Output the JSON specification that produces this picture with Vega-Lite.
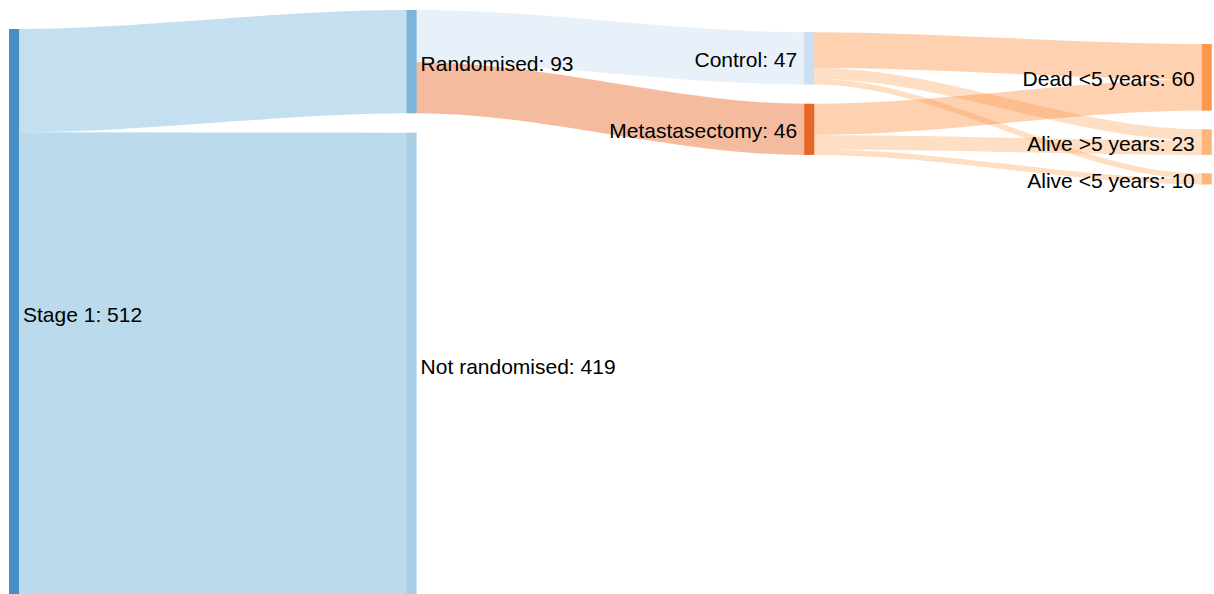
{
  "$schema": "https://vega.github.io/schema/vega-lite/v6.json",
  "width": 1214,
  "height": 594,
  "padding": 0,
  "autosize": "none",
  "config": {"view": {"stroke": null}},
  "datasets": {
    "nodes": [
      {"name": "Stage 1", "col": 0, "top": 26.1, "value": 512},
      {"name": "Randomised", "col": 1, "top": 9.0, "value": 93},
      {"name": "Not randomised", "col": 1, "top": 119.5, "value": 419},
      {"name": "Control", "col": 2, "top": 29.0, "value": 47},
      {"name": "Metastasectomy", "col": 2, "top": 93.5, "value": 46},
      {"name": "Dead <5 years", "col": 3, "top": 39.6, "value": 60},
      {"name": "Alive >5 years", "col": 3, "top": 116.5, "value": 23},
      {"name": "Alive <5 years", "col": 3, "top": 156.1, "value": 10}
    ],
    "links": [
      {"source": "Stage 1", "target": "Randomised", "value": 93},
      {"source": "Stage 1", "target": "Not randomised", "value": 419},
      {"source": "Randomised", "target": "Control", "value": 47},
      {"source": "Randomised", "target": "Metastasectomy", "value": 46},
      {"source": "Control", "target": "Dead <5 years", "value": 32},
      {"source": "Control", "target": "Alive >5 years", "value": 10},
      {"source": "Control", "target": "Alive <5 years", "value": 5},
      {"source": "Metastasectomy", "target": "Dead <5 years", "value": 28},
      {"source": "Metastasectomy", "target": "Alive >5 years", "value": 13},
      {"source": "Metastasectomy", "target": "Alive <5 years", "value": 5}
    ]
  },
  "layer": [
    {
      "data": {"name": "links"},
      "transform": [
        {"lookup": "source", "from": {"data": {"name": "nodes"}, "key": "name", "fields": ["col", "top"]}, "as": ["sCol", "sTop"]},
        {"lookup": "target", "from": {"data": {"name": "nodes"}, "key": "name", "fields": ["col", "top"]}, "as": ["tCol", "tTop"]},
        {"window": [{"op": "sum", "field": "value", "as": "sCum"}], "groupby": ["source"], "sort": [{"field": "tTop", "order": "ascending"}], "frame": [null, 0]},
        {"window": [{"op": "sum", "field": "value", "as": "tCum"}], "groupby": ["target"], "sort": [{"field": "sTop", "order": "ascending"}], "frame": [null, 0]},
        {"calculate": "datum.sTop + datum.sCum - datum.value / 2", "as": "ys"},
        {"calculate": "datum.tTop + datum.tCum - datum.value / 2", "as": "yt"},
        {"calculate": "datum.source + ' to ' + datum.target", "as": "link"},
        {"calculate": "datum.sCol + 0.0126", "as": "p0"},
        {"calculate": "datum.sCol + 0.0252", "as": "p1"},
        {"calculate": "datum.tCol", "as": "p2"},
        {"calculate": "datum.tCol + 0.0126", "as": "p3"},
        {"fold": ["p0", "p1", "p2", "p3"], "as": ["pt", "px"]},
        {"calculate": "(datum.pt == 'p0' || datum.pt == 'p1') ? datum.ys : datum.yt", "as": "py"}
      ],
      "mark": {"type": "line", "interpolate": "monotone", "strokeOpacity": 0.4, "strokeCap": "butt", "orient": "vertical"},
      "encoding": {
        "x": {"field": "px", "type": "quantitative", "scale": {"domain": [-0.02264, 3.03068], "nice": false, "zero": false}, "axis": null},
        "y": {"field": "py", "type": "quantitative", "scale": {"domain": [0, 535], "reverse": true, "nice": false, "zero": false}, "axis": null},
        "detail": {"field": "link", "type": "nominal"},
        "order": {"field": "px", "type": "quantitative"},
        "size": {"field": "value", "type": "quantitative", "scale": {"domain": [0, 535], "range": [0, 594]}, "legend": null},
        "stroke": {
          "field": "target", "type": "nominal", "legend": null,
          "scale": {
            "domain": ["Randomised", "Not randomised", "Control", "Metastasectomy", "Dead <5 years", "Alive >5 years", "Alive <5 years"],
            "range": ["#6baed6", "#55a2cd", "#c6dbef", "#e6550d", "#fd8d3c", "#fdae6b", "#fdae6b"]
          }
        }
      }
    },
    {
      "data": {"name": "nodes"},
      "transform": [
        {"calculate": "datum.col + 0.0252", "as": "colEnd"},
        {"calculate": "datum.top + datum.value", "as": "bottom"}
      ],
      "mark": {"type": "rect"},
      "encoding": {
        "x": {"field": "col", "type": "quantitative", "scale": {"domain": [-0.02264, 3.03068], "nice": false, "zero": false}, "axis": null},
        "x2": {"field": "colEnd"},
        "y": {"field": "top", "type": "quantitative", "scale": {"domain": [0, 535], "reverse": true, "nice": false, "zero": false}, "axis": null},
        "y2": {"field": "bottom"},
        "fill": {
          "field": "name", "type": "nominal", "legend": null,
          "scale": {
            "domain": ["Stage 1", "Randomised", "Not randomised", "Control", "Metastasectomy", "Dead <5 years", "Alive >5 years", "Alive <5 years"],
            "range": ["#468fc4", "#7ab6da", "#a8cfe4", "#ccdff1", "#e86625", "#fd984f", "#fdb67a", "#fdb67a"]
          }
        }
      }
    },
    {
      "data": {"name": "nodes"},
      "transform": [
        {"filter": "datum.col <= 1"},
        {"calculate": "datum.col + 0.0252", "as": "colEnd"},
        {"calculate": "datum.top + datum.value / 2", "as": "mid"},
        {"calculate": "datum.name + ': ' + datum.value", "as": "label"}
      ],
      "mark": {"type": "text", "align": "left", "baseline": "middle", "dx": 4, "dy": 3, "font": "Liberation Sans", "fontSize": 21, "fill": "#000000"},
      "encoding": {
        "x": {"field": "colEnd", "type": "quantitative", "scale": {"domain": [-0.02264, 3.03068], "nice": false, "zero": false}, "axis": null},
        "y": {"field": "mid", "type": "quantitative", "scale": {"domain": [0, 535], "reverse": true, "nice": false, "zero": false}, "axis": null},
        "text": {"field": "label", "type": "nominal"}
      }
    },
    {
      "data": {"name": "nodes"},
      "transform": [
        {"filter": "datum.col >= 2"},
        {"calculate": "datum.top + datum.value / 2", "as": "mid"},
        {"calculate": "datum.name + ': ' + datum.value", "as": "label"}
      ],
      "mark": {"type": "text", "align": "right", "baseline": "middle", "dx": -7, "dy": 3, "font": "Liberation Sans", "fontSize": 21, "fill": "#000000"},
      "encoding": {
        "x": {"field": "col", "type": "quantitative", "scale": {"domain": [-0.02264, 3.03068], "nice": false, "zero": false}, "axis": null},
        "y": {"field": "mid", "type": "quantitative", "scale": {"domain": [0, 535], "reverse": true, "nice": false, "zero": false}, "axis": null},
        "text": {"field": "label", "type": "nominal"}
      }
    }
  ]
}
